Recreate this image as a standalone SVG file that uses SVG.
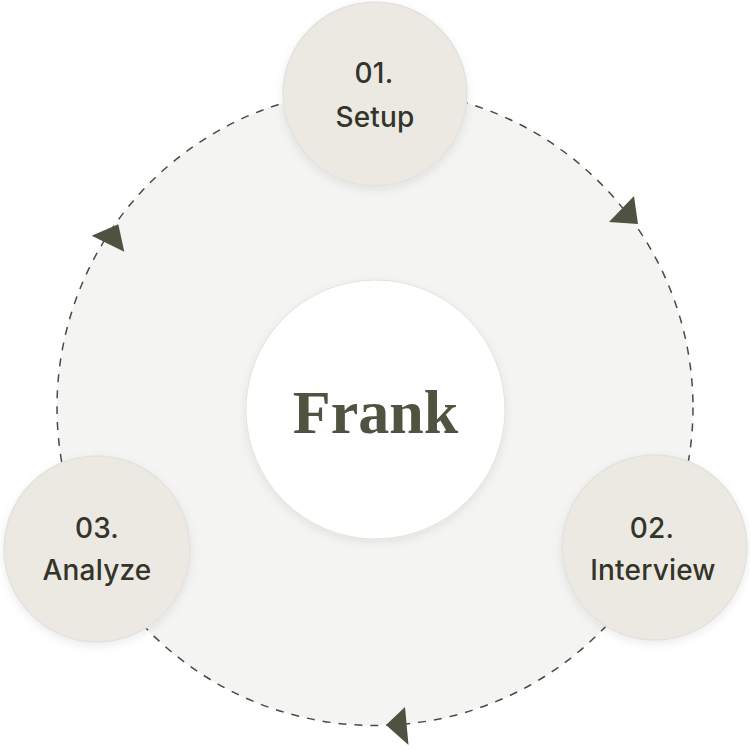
<svg xmlns="http://www.w3.org/2000/svg" width="750" height="750" viewBox="0 0 750 750">
  <style>
    .node { fill: #ece9e2; stroke: #e2e2e0; stroke-width: 1.5; filter: url(#sh); }
    .lbl { font-family: Inter, "Noto Sans", "Liberation Sans", sans-serif; font-size: 28px; font-weight: 500; fill: #33342a; text-anchor: middle; letter-spacing: 0.2px; }
    .ring { fill: #f4f4f2; stroke: #4a4b3e; stroke-width: 1.5; stroke-dasharray: 8 8; }
    .arrow { fill: #4f5240; }
  </style>
  <defs>
    <filter id="sh" x="-20%" y="-20%" width="140%" height="140%">
      <feDropShadow dx="0" dy="3" stdDeviation="4" flood-color="#000" flood-opacity="0.08"/>
    </filter>
  </defs>
  <rect width="750" height="750" fill="#ffffff"/>
  <g id="connectors">
    <circle class="ring" cx="375" cy="407.5" r="318"/>
    <polygon class="arrow" points="634,196 609,222 638,224"/>
    <polygon class="arrow" points="91.7,235.7 118.3,224.3 124.3,251.7"/>
    <polygon class="arrow" points="386,725 405,707 408.5,745"/>
  </g>
  <g id="center">
    <circle cx="375.5" cy="409.5" r="129.5" fill="#ffffff" stroke="#e6e2d6" stroke-width="1" filter="url(#sh)"/>
    <text x="375.5" y="433" font-family="'Liberation Serif', 'DejaVu Serif', serif" font-weight="bold" font-size="62" fill="#505340" text-anchor="middle">Frank</text>
  </g>
  <g id="node-setup">
    <circle class="node" cx="375" cy="94" r="92"/>
    <text class="lbl" x="374" y="83">01.</text>
    <text class="lbl" x="375" y="127">Setup</text>
  </g>
  <g id="node-interview">
    <circle class="node" cx="654.5" cy="547.5" r="92.5"/>
    <text class="lbl" x="652" y="538">02.</text>
    <text class="lbl" x="653" y="580">Interview</text>
  </g>
  <g id="node-analyze">
    <circle class="node" cx="97" cy="549" r="93"/>
    <text class="lbl" x="97" y="538">03.</text>
    <text class="lbl" x="97" y="580">Analyze</text>
  </g>
</svg>
